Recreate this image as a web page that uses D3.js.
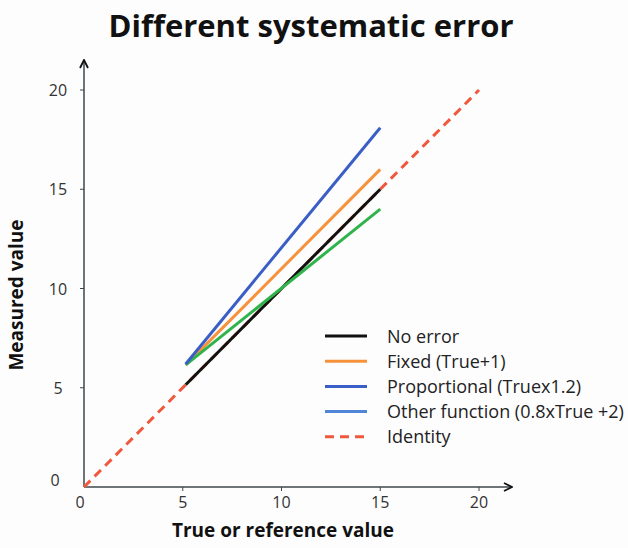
<!DOCTYPE html>
<html>
<head>
<meta charset="utf-8">
<script src="https://cdn.jsdelivr.net/npm/d3@7"></script>
<style>
  body { margin: 0; background: #fdfdfe; }
  svg { display: block; font-family: "Open Sans", "Noto Sans", sans-serif; }
</style>
</head>
<body>
<div id="chart"></div>
<script>
var svgWidth = 628;
var svgHeight = 548;

// data
var xRange = [5.15, 15];
var noError = [5.15, 15];
var fixedErr = [6.15, 16];
var proportional = [6.2, 18.1];
var otherFunc = [6.15, 14];
var identityX = [0, 20];
var identityY = [0, 20];
var ticks = [0, 5, 10, 15, 20];

var seriesNames = ["No error", "Fixed (True+1)", "Proportional (Truex1.2)", "Other function (0.8xTrue +2)", "Identity"];
var lineColors = ["#111111", "#f7923c", "#3a5ec6", "#2fb34a", "#f0583c"];
var legendColors = ["#111111", "#f7923c", "#3a5ec6", "#4f86d8", "#f0583c"];

var x0 = 84, x20 = 479, y0 = 487, y20 = 90;

var svg = d3.select("#chart").append("svg")
  .attr("width", svgWidth)
  .attr("height", svgHeight);

var xScale = d3.scaleLinear().domain([0, 20]).range([x0, x20]);
var yScale = d3.scaleLinear().domain([0, 20]).range([y0, y20]);

// title
svg.append("text")
  .attr("x", 311).attr("y", 37)
  .attr("text-anchor", "middle")
  .attr("font-size", "31px").attr("font-weight", "bold")
  .attr("fill", "#111")
  .text("Different systematic error");

// axes lines with arrows
svg.append("defs").append("marker")
  .attr("id", "arrow")
  .attr("viewBox", "0 0 10 10")
  .attr("refX", 9).attr("refY", 5)
  .attr("markerWidth", 10).attr("markerHeight", 10)
  .attr("markerUnits", "userSpaceOnUse")
  .attr("orient", "auto")
  .append("path")
  .attr("d", "M1,1 L9,5 L1,9")
  .attr("fill", "none").attr("stroke", "#111").attr("stroke-width", 1.8);

svg.append("line")
  .attr("x1", x0).attr("y1", y0).attr("x2", 512).attr("y2", y0)
  .attr("stroke", "#3c474d").attr("stroke-width", 1.5)
  .attr("marker-end", "url(#arrow)");

svg.append("line")
  .attr("x1", x0).attr("y1", y0).attr("x2", x0).attr("y2", 60)
  .attr("stroke", "#3c474d").attr("stroke-width", 1.5)
  .attr("marker-end", "url(#arrow)");

// x ticks
var xTickG = svg.append("g");
xTickG.selectAll("line").data(ticks.slice(1)).enter().append("line")
  .attr("x1", d => xScale(d)).attr("x2", d => xScale(d))
  .attr("y1", y0).attr("y2", y0 + 4)
  .attr("stroke", "#3c474d").attr("stroke-width", 1);
xTickG.selectAll("text").data(ticks).enter().append("text")
  .attr("x", d => d === 0 ? xScale(d) - 4 : xScale(d))
  .attr("y", y0 + 21)
  .attr("text-anchor", "middle")
  .attr("font-size", "16px").attr("fill", "#333")
  .text(d => d);

// y ticks
var yTickG = svg.append("g");
yTickG.selectAll("line").data(ticks.slice(1)).enter().append("line")
  .attr("x1", x0 - 4).attr("x2", x0)
  .attr("y1", d => yScale(d)).attr("y2", d => yScale(d))
  .attr("stroke", "#3c474d").attr("stroke-width", 1);
yTickG.selectAll("text").data(ticks).enter().append("text")
  .attr("x", d => d === 0 ? 55 : 58)
  .attr("y", d => d === 0 ? yScale(d) - 1 : yScale(d) + 6)
  .attr("text-anchor", "middle")
  .attr("font-size", "16px").attr("fill", "#333")
  .text(d => d);

// axis titles
svg.append("text")
  .attr("x", 283).attr("y", 537)
  .attr("text-anchor", "middle")
  .attr("font-size", "19px").attr("font-weight", "bold").attr("fill", "#111")
  .text("True or reference value");

svg.append("text")
  .attr("transform", "translate(23, 295) rotate(-90)")
  .attr("text-anchor", "middle")
  .attr("font-size", "19px").attr("font-weight", "bold").attr("fill", "#111")
  .text("Measured value");

// lines
var line = d3.line().x(d => xScale(d[0])).y(d => yScale(d[1]));

svg.append("path")
  .datum(d3.zip(identityX, identityY))
  .attr("d", line)
  .attr("fill", "none").attr("stroke", lineColors[4])
  .attr("stroke-width", 3).attr("stroke-dasharray", "9,6");

var seriesList = [noError, fixedErr, otherFunc, proportional];
var seriesColor = [lineColors[0], lineColors[1], lineColors[3], lineColors[2]];
seriesList.forEach(function(ys, i) {
  svg.append("path")
    .datum(d3.zip(xRange, ys))
    .attr("d", line)
    .attr("fill", "none")
    .attr("stroke", seriesColor[i])
    .attr("stroke-width", 3);
});

// legend
var legend = svg.append("g").attr("transform", "translate(325, 336)");
seriesNames.forEach(function(name, i) {
  var row = legend.append("g").attr("transform", `translate(0, ${i * 25.2})`);
  row.append("line")
    .attr("x1", 0).attr("x2", 42).attr("y1", 0).attr("y2", 0)
    .attr("stroke", legendColors[i]).attr("stroke-width", 3)
    .attr("stroke-dasharray", i === 4 ? "9,6" : null);
  row.append("text")
    .attr("x", 62).attr("y", 6.5)
    .attr("font-size", "18px").attr("fill", "#222")
    .text(name);
});
</script>
</body>
</html>
